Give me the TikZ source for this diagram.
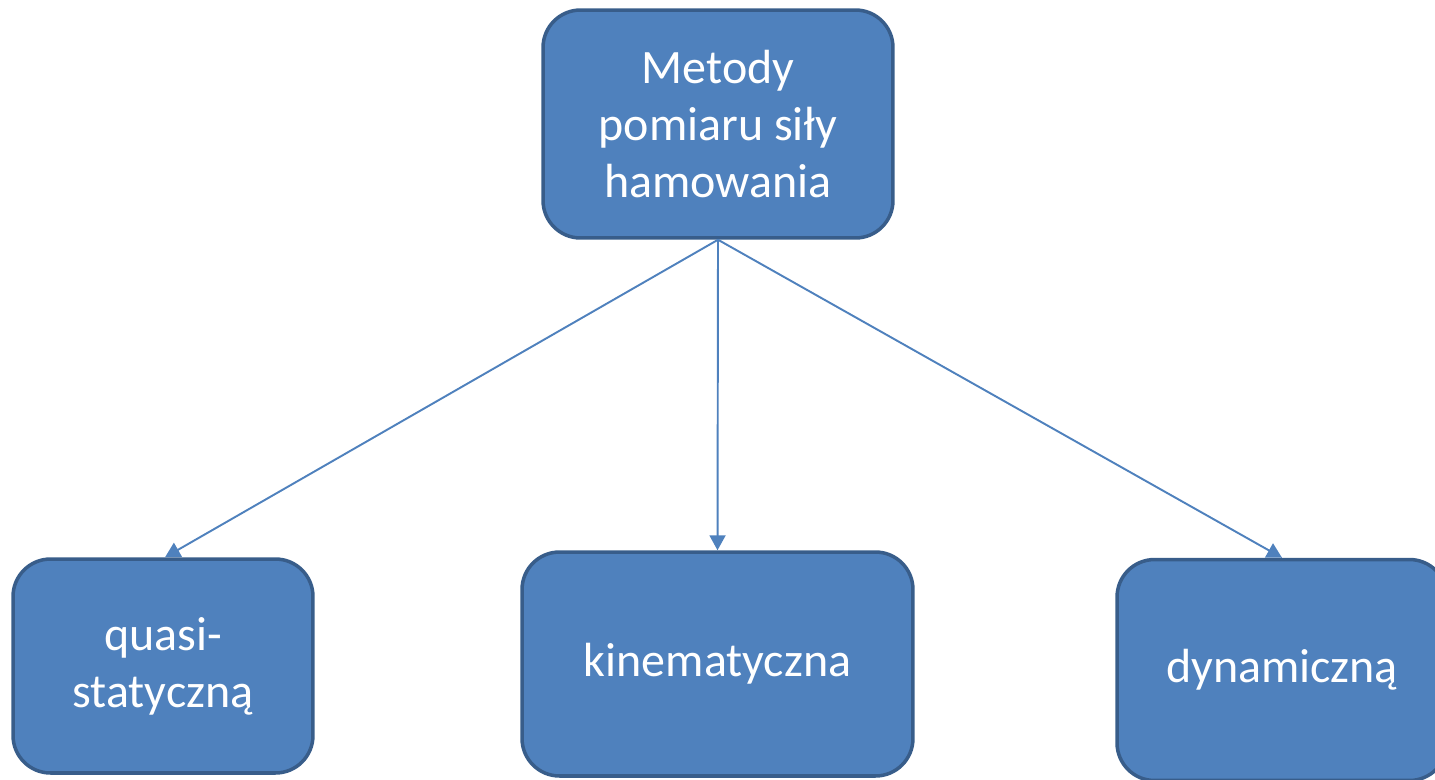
\documentclass[tikz,border=0pt]{standalone}
\usepackage{fontspec}
\setmainfont{Carlito}
\usepackage{xcolor}
\usetikzlibrary{arrows.meta}
\usetikzlibrary{positioning, calc}

\definecolor{boxfill}{HTML}{4F81BD}
\definecolor{boxline}{HTML}{385D8A}

\tikzset{
    metoda/.style={draw=boxline, line width=2pt, fill=boxfill, rounded corners=0.75cm,
        text=white, align=center, inner sep=0pt,
        font=\fontsize{27.3}{32.5}\selectfont},
    strzalka/.style={draw=boxfill, line width=1.1pt,
        -{Triangle[length=0.3cm, width=0.32cm]}}
}

\begin{document}
\begin{tikzpicture}[x=0.02cm, y=-0.02cm]
    \useasboundingbox (0,0) rectangle (1435,779);
    \clip (0,0) rectangle (1435,779);
    \node[metoda, minimum width=7cm, minimum height=4.56cm] (metody) at (718,124)
        {Metody\\pomiaru siły\\hamowania};
    \node[metoda, minimum width=6cm, minimum height=4.28cm] (quasi) at (163,666)
        {quasi-\\statyczną};
    \node[metoda, minimum width=7.82cm, minimum height=4.48cm] (kinem) at (717.5,664)
        {kinematyczna};
    \node[metoda, minimum width=6.6cm, minimum height=4.42cm] (dynam) at (1282,670)
        {dynamiczną};
    \draw[strzalka] (metody.south) -- ([xshift=0.04cm]quasi.north);
    \draw[strzalka] (metody.south) -- (kinem.north);
    \draw[strzalka] (metody.south) -- (dynam.north);
\end{tikzpicture}
\end{document}
